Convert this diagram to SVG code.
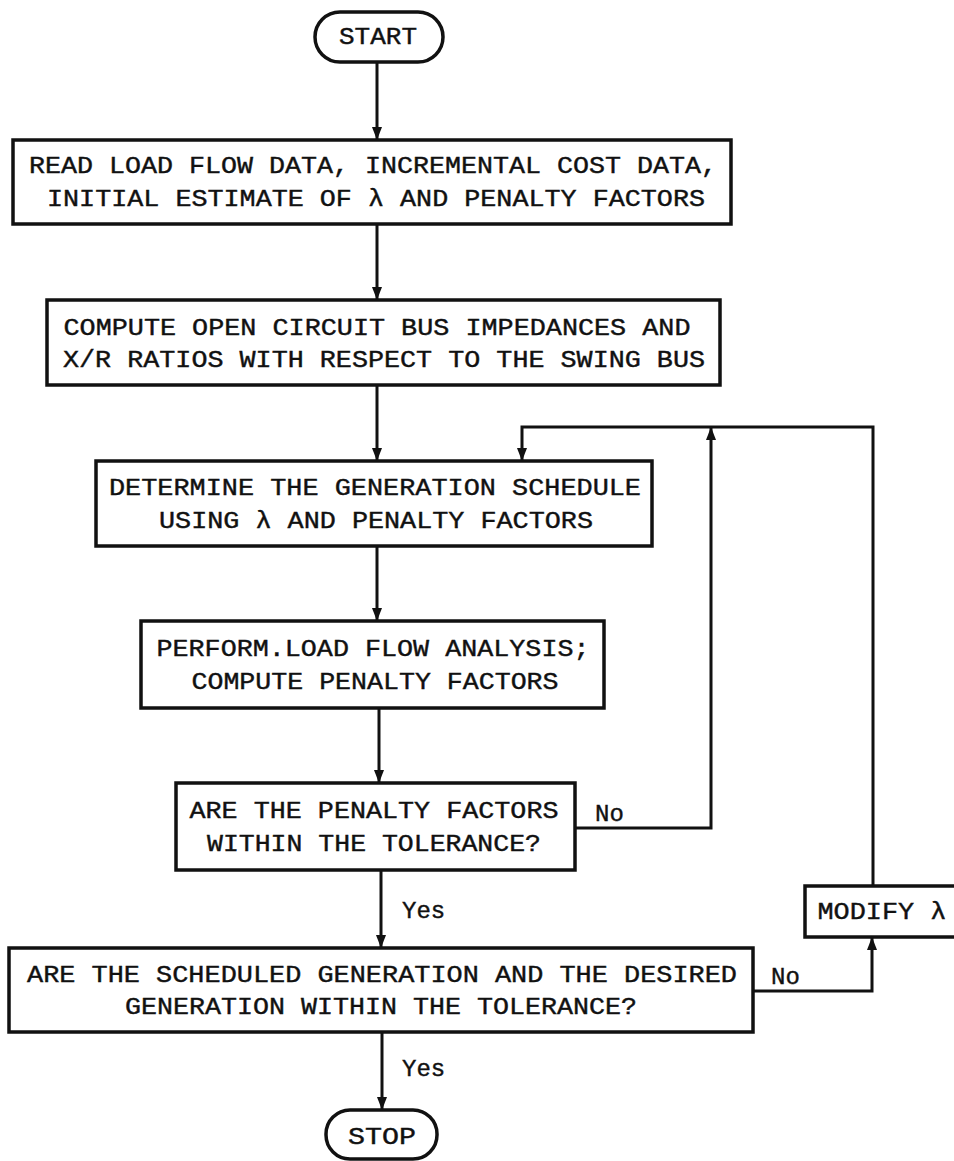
<svg xmlns="http://www.w3.org/2000/svg" width="954" height="1161" viewBox="0 0 954 1161">
<defs>
<style>
.box{fill:#fff;stroke:#111;stroke-width:3.5}
.ln{fill:none;stroke:#111;stroke-width:3}
.t{font-family:"Liberation Mono","DejaVu Sans Mono",monospace;font-size:23px;fill:#111;stroke:#111;stroke-width:0.4;text-anchor:middle}
.lbl{font-family:"Liberation Mono","DejaVu Sans Mono",monospace;font-size:24px;fill:#111;stroke:#111;stroke-width:0.4}
</style>
<marker id="ah" viewBox="0 0 13 10" refX="13" refY="5" markerWidth="13" markerHeight="10" markerUnits="userSpaceOnUse" orient="auto">
<path d="M0,0 L13,5 L0,10 z" fill="#111"/>
</marker>
</defs>
<rect width="954" height="1161" fill="#fff"/>
<g id="connectors">
<path class="ln" d="M377,63 V140" marker-end="url(#ah)"/>
<path class="ln" d="M377,224 V300" marker-end="url(#ah)"/>
<path class="ln" d="M377,385 V461" marker-end="url(#ah)"/>
<path class="ln" d="M377,546 V621" marker-end="url(#ah)"/>
<path class="ln" d="M379,708 V783" marker-end="url(#ah)"/>
<path class="ln" d="M575,828 H711 V427" marker-end="url(#ah)"/>
<path class="ln" d="M873,886 V427 H522 V461" marker-end="url(#ah)"/>
<path class="ln" d="M381,870 V948" marker-end="url(#ah)"/>
<path class="ln" d="M753,991 H872 V937" marker-end="url(#ah)"/>
<path class="ln" d="M382,1032 V1110" marker-end="url(#ah)"/>
<text class="lbl" x="595" y="821">No</text>
<text class="lbl" x="402" y="918">Yes</text>
<text class="lbl" x="771" y="984">No</text>
<text class="lbl" x="402" y="1076">Yes</text>
</g>
<g id="start">
<rect class="box" x="315" y="12" width="128" height="50" rx="25"/>
<text class="t" x="378" y="44" textLength="78" lengthAdjust="spacingAndGlyphs">START</text>
</g>
<g id="read">
<rect class="box" x="13" y="140" width="718" height="84"/>
<text class="t" x="373" y="173" textLength="688" lengthAdjust="spacingAndGlyphs">READ LOAD FLOW DATA, INCREMENTAL COST DATA,</text>
<text class="t" x="376" y="206" textLength="658" lengthAdjust="spacingAndGlyphs">INITIAL ESTIMATE OF λ AND PENALTY FACTORS</text>
</g>
<g id="compute">
<rect class="box" x="47" y="300" width="673" height="85"/>
<text class="t" x="377" y="335" textLength="627" lengthAdjust="spacingAndGlyphs">COMPUTE OPEN CIRCUIT BUS IMPEDANCES AND</text>
<text class="t" x="384" y="367" textLength="642" lengthAdjust="spacingAndGlyphs">X/R RATIOS WITH RESPECT TO THE SWING BUS</text>
</g>
<g id="determine">
<rect class="box" x="96" y="461" width="556" height="85"/>
<text class="t" x="375" y="495" textLength="532" lengthAdjust="spacingAndGlyphs">DETERMINE THE GENERATION SCHEDULE</text>
<text class="t" x="376" y="528" textLength="434" lengthAdjust="spacingAndGlyphs">USING λ AND PENALTY FACTORS</text>
</g>
<g id="perform">
<rect class="box" x="141" y="621" width="463" height="87"/>
<text class="t" x="373" y="656" textLength="433" lengthAdjust="spacingAndGlyphs">PERFORM.LOAD FLOW ANALYSIS;</text>
<text class="t" x="375" y="689" textLength="367" lengthAdjust="spacingAndGlyphs">COMPUTE PENALTY FACTORS</text>
</g>
<g id="check-penalty">
<rect class="box" x="176" y="783" width="399" height="87"/>
<text class="t" x="374" y="818" textLength="369" lengthAdjust="spacingAndGlyphs">ARE THE PENALTY FACTORS</text>
<text class="t" x="374" y="851" textLength="334" lengthAdjust="spacingAndGlyphs">WITHIN THE TOLERANCE?</text>
</g>
<g id="check-generation">
<rect class="box" x="9" y="948" width="744" height="84"/>
<text class="t" x="382" y="982" textLength="710" lengthAdjust="spacingAndGlyphs">ARE THE SCHEDULED GENERATION AND THE DESIRED</text>
<text class="t" x="381" y="1014" textLength="512" lengthAdjust="spacingAndGlyphs">GENERATION WITHIN THE TOLERANCE?</text>
</g>
<g id="modify">
<rect class="box" x="805" y="886" width="155" height="51"/>
<text class="t" x="882" y="919" textLength="129" lengthAdjust="spacingAndGlyphs">MODIFY λ</text>
</g>
<g id="stop">
<rect class="box" x="326" y="1110" width="111" height="49" rx="24"/>
<text class="t" x="382" y="1144" textLength="68" lengthAdjust="spacingAndGlyphs">STOP</text>
</g>
</svg>
